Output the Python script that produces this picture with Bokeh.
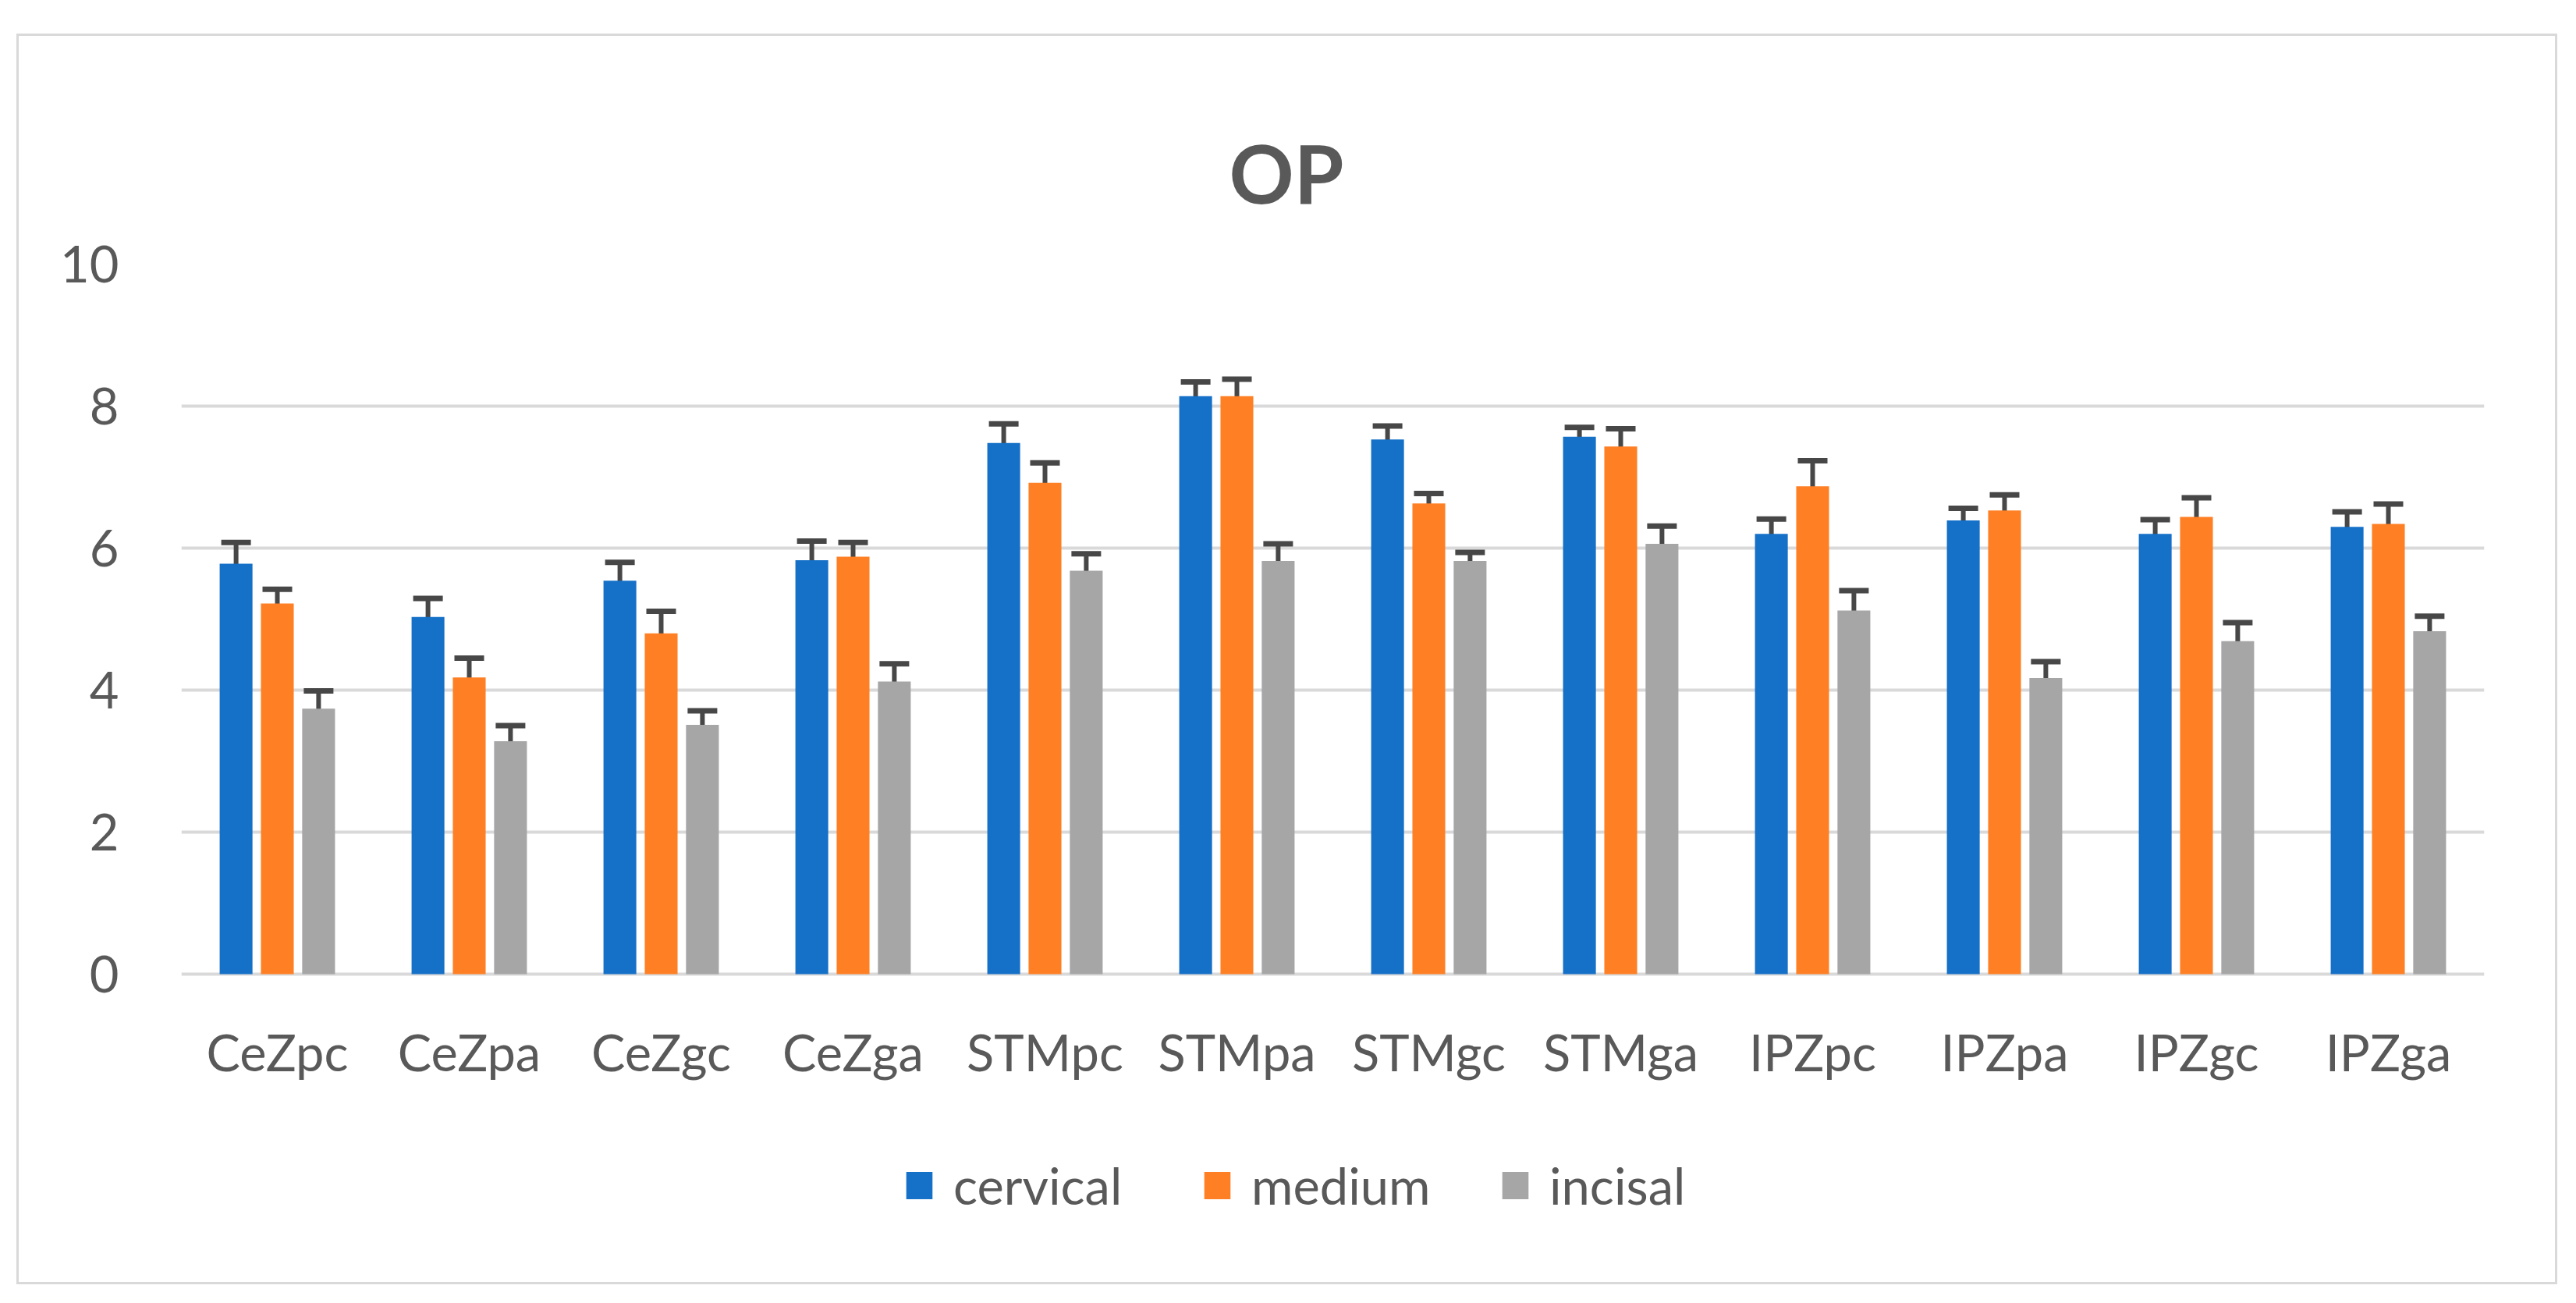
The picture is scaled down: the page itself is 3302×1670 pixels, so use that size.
from bokeh.plotting import figure
from bokeh.models import (ColumnDataSource, FactorRange, Range1d, FixedTicker, Whisker,
                          TeeHead, Legend, LegendItem)
from bokeh.core.properties import value
from bokeh.transform import dodge
from bokeh.embed import file_html
from bokeh.resources import INLINE

categories = ["CeZpc", "CeZpa", "CeZgc", "CeZga", "STMpc", "STMpa",
              "STMgc", "STMga", "IPZpc", "IPZpa", "IPZgc", "IPZga"]
series_names = ["cervical", "medium", "incisal"]
cervical = [5.78, 5.03, 5.54, 5.83, 7.48, 8.14, 7.53, 7.57, 6.20, 6.39, 6.20, 6.30]
cervical_err = [0.30, 0.26, 0.26, 0.27, 0.27, 0.20, 0.19, 0.13, 0.21, 0.17, 0.20, 0.21]
medium = [5.22, 4.18, 4.80, 5.88, 6.92, 8.14, 6.63, 7.43, 6.87, 6.53, 6.44, 6.34]
medium_err = [0.20, 0.27, 0.31, 0.20, 0.28, 0.24, 0.14, 0.25, 0.36, 0.22, 0.27, 0.28]
incisal = [3.74, 3.28, 3.51, 4.12, 5.68, 5.82, 5.82, 6.06, 5.12, 4.17, 4.69, 4.83]
incisal_err = [0.25, 0.22, 0.20, 0.25, 0.24, 0.24, 0.12, 0.25, 0.28, 0.23, 0.26, 0.21]
y_ticks = [0, 2, 4, 6, 8, 10]

colors = ["#1570c8", "#ff7f24", "#a6a6a6"]
FONT = "Lato"
TXT = "#595959"
ERR = "#474747"

data = dict(cats=categories)
for name, vals, errs in [("cervical", cervical, cervical_err),
                         ("medium", medium, medium_err),
                         ("incisal", incisal, incisal_err)]:
    data[name] = vals
    data[name + "_up"] = [v + e for v, e in zip(vals, errs)]
    data[name + "_lo"] = [v - e for v, e in zip(vals, errs)]
src = ColumnDataSource(data)

# frame extends below the value axis so the category labels and the legend sit inside it
p = figure(x_range=FactorRange(*categories), y_range=Range1d(-3.868, 10),
           width=3251, height=1597, output_backend="svg", toolbar_location=None,
           min_border_left=208, min_border_right=91, min_border_top=292,
           min_border_bottom=43)
p.margin = (46, 0, 0, 24)
p.styles = {"outline": "3px solid #d9d9d9"}
p.outline_line_color = None
p.background_fill_color = "white"
p.border_fill_color = "white"

p.title.text = "OP"
p.title.text_font = FONT
p.title.text_font_size = "103px"
p.title.text_font_style = "bold"
p.title.text_color = TXT
p.title.align = "left"
p.title.offset = 1343
p.title.vertical_align = "bottom"
p.title.standoff = 112

offsets = [-0.215, 0.0, 0.215]
items = []
for name, col, off in zip(series_names, colors, offsets):
    r = p.vbar(x=dodge("cats", off, range=p.x_range), top=name, bottom=0, width=0.171,
               source=src, fill_color=col, line_color=None)
    items.append(LegendItem(label=name, renderers=[r]))
    w = Whisker(base=dodge("cats", off, range=p.x_range), upper=name + "_up",
                lower=name + "_lo", source=src, line_color=ERR, line_width=6,
                upper_head=TeeHead(size=38, line_width=7, line_color=ERR),
                lower_head=TeeHead(size=38, line_width=7, line_color=ERR))
    p.add_layout(w)

# category labels under the zero line
p.text(x="cats", y=-1.09, text="cats", source=src, text_align="center",
       text_baseline="middle", text_font=value(FONT), text_font_size="65px",
       text_color=TXT)

p.xaxis.visible = False

p.yaxis.ticker = FixedTicker(ticks=y_ticks)
p.yaxis.axis_line_color = None
p.yaxis.major_tick_line_color = None
p.yaxis.minor_tick_line_color = None
p.yaxis.major_label_standoff = 74
p.yaxis.major_label_text_font = FONT
p.yaxis.major_label_text_font_size = "65px"
p.yaxis.major_label_text_color = TXT

p.xgrid.visible = False
p.ygrid.ticker = FixedTicker(ticks=y_ticks)
p.ygrid.grid_line_color = "#d9d9d9"
p.ygrid.grid_line_width = 4

legend = Legend(items=items, orientation="horizontal", location=(925, 42),
                glyph_width=42, glyph_height=44, label_standoff=23, spacing=87,
                label_width=230, padding=0, margin=0,
                label_text_font=FONT, label_text_font_size="65px",
                label_text_color=TXT, border_line_color=None,
                background_fill_alpha=0)
p.add_layout(legend, "center")

open("out.html", "w").write(file_html(p, INLINE))
